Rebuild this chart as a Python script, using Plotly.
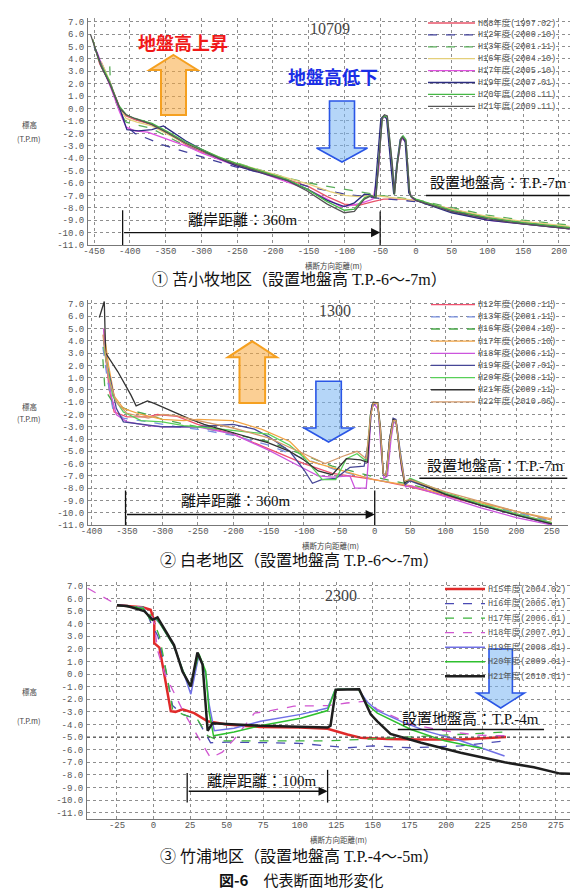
import plotly.graph_objects as go

W, H = 578, 890

# ---------------- Panel 1 : 苫小牧 10709 ----------------
names1 = ["H08年度(1997.02)", "H12年度(2000.10)", "H13年度(2001.11)", "H16年度(2004.10)",
          "H17年度(2005.10)", "H19年度(2007.01)", "H20年度(2008.11)", "H21年度(2009.11)"]
colors1 = ["#e8546a", "#40409a", "#5aae5a", "#e4cf7a", "#e050e0", "#2c2c80", "#46b846", "#555555"]
dash1 = ["solid", "dash", "dash", "solid", "solid", "solid", "solid", "solid"]

p1_x_h08 = [-452, -442, -428, -414, -405, -393, -369, -346, -322, -299, -276, -252, -215, -180, -150, -124, -100, -80, -60, -45, -20, 0, 50, 100, 150, 200, 215]
p1_y_h08 = [5.6, 3.6, 2.1, 0.1, -0.6, -0.9, -1.3, -2.0, -2.9, -3.5, -4.0, -4.5, -5.1, -5.7, -6.3, -7.1, -7.7, -7.8, -7.5, -7.3, -7.3, -7.4, -8.1, -8.8, -9.2, -9.5, -9.6]
p1_x_h12 = [-450, -440, -428, -416, -405, -393, -375, -355, -322, -300, -276, -252, -215, -180, -150, -100, -50, 0, 50, 100, 150, 200, 215]
p1_y_h12 = [5.0, 3.7, 2.2, 0.3, -1.4, -2.0, -2.4, -2.9, -3.5, -3.9, -4.3, -4.7, -5.2, -5.8, -6.3, -6.9, -7.25, -7.5, -8.2, -8.9, -9.2, -9.5, -9.6]
p1_x_h13 = [-428, -427, -420, -412, -405, -390, -370, -346, -322, -300, -276, -250, -215, -180, -150, -100, -50, 0, 50, 100, 150, 200, 215]
p1_y_h13 = [3.4, 2.0, 0.6, -0.5, -1.1, -1.3, -1.6, -2.3, -3.0, -3.5, -4.0, -4.4, -5.0, -5.6, -6.0, -6.5, -7.0, -7.35, -8.0, -8.6, -9.0, -9.3, -9.4]
p1_x_h16 = [-440, -428, -414, -405, -390, -369, -346, -322, -299, -276, -252, -215, -180, -150, -120, -100, -80, -60, -45, 0, 50, 100, 150, 200, 215]
p1_y_h16 = [3.8, 2.2, 0.0, -0.8, -1.1, -1.4, -2.1, -2.8, -3.3, -3.9, -4.4, -5.0, -5.6, -6.1, -6.7, -7.0, -7.1, -7.0, -7.1, -7.4, -8.1, -8.7, -9.1, -9.4, -9.5]
p1_x_h17 = [-446, -436, -426, -414, -405, -393, -375, -355, -340, -322, -299, -276, -252, -215, -180, -152, -124, -105, -90, -75, -60, -52, -48, -44, -40, -34, -30, -26, -21, -18, -14, -9, -6, 0, 50, 100, 150, 200, 215]
p1_y_h17 = [4.6, 3.0, 1.6, -0.3, -1.5, -1.8, -1.9, -2.3, -2.6, -3.0, -3.6, -4.1, -4.6, -5.2, -5.9, -6.5, -7.3, -7.9, -7.8, -7.6, -7.3, -5.0, -1.0, -0.6, -0.9, -4.5, -6.8, -4.5, -2.6, -2.4, -2.8, -6.6, -7.2, -7.4, -8.3, -9.0, -9.3, -9.6, -9.7]
p1_x_h19 = [-448, -438, -426, -414, -404, -388, -369, -353, -340, -322, -299, -276, -252, -215, -180, -152, -124, -100, -86, -72, -64, -58, -53, -49, -45, -41, -35, -31, -27, -22, -19, -15, -10, -7, 0, 50, 100, 150, 200, 215]
p1_y_h19 = [4.8, 3.2, 1.8, 0.0, -1.7, -1.8, -1.7, -1.4, -1.9, -2.6, -3.3, -4.0, -4.6, -5.2, -5.8, -6.5, -7.4, -7.9, -7.6, -6.9, -6.95, -7.2, -3.5, -0.8, -0.6, -0.8, -4.6, -6.9, -4.6, -2.5, -2.3, -2.7, -6.8, -7.1, -7.4, -8.4, -9.0, -9.3, -9.6, -9.7]
p1_x_h20 = [-452, -444, -430, -416, -405, -393, -369, -346, -322, -299, -276, -252, -215, -180, -152, -124, -100, -86, -72, -63, -56, -51, -47, -44, -40, -33, -30, -26, -21, -18, -14, -9, -7, 0, 50, 100, 150, 200, 215]
p1_y_h20 = [5.6, 4.0, 2.4, 0.3, -0.5, -0.8, -1.2, -1.9, -2.7, -3.3, -3.9, -4.4, -5.1, -5.7, -6.5, -7.5, -8.2, -8.1, -7.2, -7.0, -7.15, -3.4, -0.8, -0.6, -0.7, -4.6, -6.95, -4.4, -2.4, -2.2, -2.5, -6.6, -7.1, -7.3, -8.2, -8.8, -9.2, -9.5, -9.6]
p1_x_h21 = [-455, -447, -444, -440, -428, -414, -405, -393, -369, -346, -322, -299, -276, -252, -215, -180, -152, -124, -100, -86, -72, -63, -56, -51, -47, -44, -40, -33, -30, -26, -21, -19, -14, -9, -7, 0, 50, 100, 150, 200, 215]
p1_y_h21 = [6.0, 4.6, 4.1, 3.4, 2.0, 0.0, -0.5, -0.8, -1.3, -2.0, -2.8, -3.4, -4.0, -4.5, -5.2, -5.8, -6.65, -7.7, -8.4, -8.3, -7.3, -7.05, -7.2, -3.2, -0.7, -0.5, -0.6, -4.5, -6.9, -4.5, -2.5, -2.3, -2.6, -6.7, -7.05, -7.4, -8.3, -8.9, -9.3, -9.6, -9.7]

series1 = [(p1_x_h08, p1_y_h08), (p1_x_h12, p1_y_h12), (p1_x_h13, p1_y_h13), (p1_x_h16, p1_y_h16),
           (p1_x_h17, p1_y_h17), (p1_x_h19, p1_y_h19), (p1_x_h20, p1_y_h20), (p1_x_h21, p1_y_h21)]

# ---------------- Panel 2 : 白老 1300 ----------------
names2 = ["H12年度(2000.11)", "H13年度(2001.11)", "H16年度(2004.10)", "H17年度(2005.10)", "H18年度(2006.11)",
          "H19年度(2007.01)", "H20年度(2008.11)", "H21年度(2009.11)", "H22年度(2010.06)"]
colors2 = ["#f0506e", "#7890e0", "#4aa84a", "#f2a444", "#cc55dd", "#464696", "#58d058", "#333333", "#d49a6a"]
dash2 = ["solid", "dash", "dash", "solid", "solid", "solid", "solid", "solid", "solid"]

p2_x_h12 = [-383, -375, -368, -350, -320, -307, -279, -250, -200, -150, -100, -60, -20, 0, 50, 100, 150, 200, 250]
p2_y_h12 = [4.5, 0.0, -1.8, -2.2, -2.2, -2.0, -2.15, -2.8, -3.6, -4.8, -6.0, -6.8, -7.1, -7.3, -7.9, -8.6, -9.4, -10.1, -10.8]
p2_x_h13 = [-384, -378, -370, -355, -320, -280, -250, -200, -150, -100, -50, 0, 50, 100, 150, 200, 250]
p2_y_h13 = [3.5, 1.0, -1.5, -2.3, -2.6, -3.0, -3.2, -3.7, -4.5, -5.6, -6.6, -7.3, -7.8, -8.5, -9.3, -10.0, -10.7]
p2_x_h16 = [-384, -381, -370, -350, -320, -300, -250, -200, -150, -100, -60, -20, 0, 50, 100, 150, 200, 250]
p2_y_h16 = [2.5, 0.0, -1.0, -1.6, -2.0, -2.4, -3.0, -3.6, -4.2, -5.3, -6.2, -6.8, -7.1, -7.7, -8.4, -9.2, -9.9, -10.6]
p2_x_h17 = [-383, -376, -368, -355, -330, -300, -270, -250, -200, -160, -120, -92, -2, 50, 100, 150, 200, 250]
p2_y_h17 = [5.0, 2.0, -0.5, -1.5, -2.0, -2.4, -2.5, -2.4, -2.5, -3.2, -4.2, -5.8, -7.3, -7.8, -8.5, -9.2, -9.9, -10.5]
p2_x_h18 = [-383, -380, -372, -365, -350, -320, -300, -270, -250, -200, -150, -100, -80, -60, -35, -28, -12, -8, -5, 0, 5, 9, 13, 18, 23, 27, 31, 38, 44, 50, 100, 150, 200, 250]
p2_y_h18 = [5.0, 2.5, -0.5, -2.0, -2.6, -2.9, -3.0, -3.0, -3.0, -3.6, -4.9, -6.4, -7.0, -7.1, -7.0, -8.0, -8.0, -5.0, -1.5, -1.2, -1.6, -5.0, -7.2, -7.0, -4.0, -2.6, -2.8, -6.5, -7.9, -7.8, -8.7, -9.6, -10.4, -11.0]
p2_x_h19 = [-383, -378, -372, -365, -355, -330, -300, -250, -200, -170, -150, -120, -100, -88, -75, -55, -35, -15, -8, -4, 4, 8, 12, 16, 21, 26, 30, 36, 43, 50, 100, 150, 200, 250]
p2_y_h19 = [4.0, 2.0, 0.5, -1.5, -2.6, -2.8, -3.0, -3.0, -2.8, -3.2, -3.8, -5.0, -6.5, -7.6, -7.3, -7.2, -6.3, -6.2, -4.0, -1.2, -1.1, -3.5, -6.9, -7.0, -4.0, -2.3, -2.4, -5.0, -7.7, -7.4, -8.5, -9.4, -10.2, -10.9]
p2_x_h20 = [-383, -376, -370, -355, -330, -300, -270, -250, -200, -150, -120, -100, -74, -55, -40, -25, -12, -6, -2, 4, 8, 12, 16, 21, 26, 30, 36, 42, 50, 100, 150, 200, 250]
p2_y_h20 = [3.5, 1.5, -0.5, -1.8, -2.5, -2.6, -2.9, -3.0, -3.3, -3.6, -4.5, -5.5, -7.3, -7.3, -5.6, -5.2, -5.8, -2.0, -1.1, -1.1, -3.2, -6.8, -7.0, -4.2, -2.5, -2.5, -5.3, -7.6, -7.2, -8.4, -9.3, -10.1, -10.8]
p2_x_h21 = [-389, -382, -381, -380, -363, -344.5, -337, -321, -311.5, -288, -264, -241, -217, -194, -151, -120, -100, -80, -60, -40, -20, -10, -6, -2, 4, 8, 12, 16, 21, 26, 30, 36, 42, 50, 100, 150, 200, 250]
p2_y_h21 = [5.9, 7.2, 5.0, 3.0, 1.5, -0.4, -1.3, -0.9, -1.1, -1.7, -2.3, -2.8, -3.2, -3.6, -4.3, -5.0, -5.7, -6.6, -6.9, -5.6, -5.7, -5.9, -2.0, -1.0, -1.05, -3.0, -6.8, -7.0, -4.0, -2.4, -2.5, -5.5, -7.6, -7.3, -8.5, -9.4, -10.2, -10.9]
p2_x_h22 = [-384, -376, -365, -350, -320, -300, -280, -250, -200, -150, -100, -70, -45, -25, -12, -6, -2, 4, 8, 12, 16, 21, 26, 30, 36, 42, 50, 100, 150, 200, 250]
p2_y_h22 = [4.5, 1.0, -1.0, -1.9, -2.3, -2.0, -2.1, -2.5, -3.1, -3.9, -5.2, -6.0, -5.4, -5.0, -5.6, -2.2, -1.1, -1.1, -3.2, -6.8, -7.0, -4.2, -2.5, -2.5, -5.3, -7.4, -7.3, -8.3, -9.1, -9.9, -10.6]

series2 = [(p2_x_h12, p2_y_h12), (p2_x_h13, p2_y_h13), (p2_x_h16, p2_y_h16), (p2_x_h17, p2_y_h17),
           (p2_x_h18, p2_y_h18), (p2_x_h19, p2_y_h19), (p2_x_h20, p2_y_h20), (p2_x_h21, p2_y_h21),
           (p2_x_h22, p2_y_h22)]

# ---------------- Panel 3 : 竹浦 2300 ----------------
names3 = ["H15年度(2004.02)", "H16年度(2005.01)", "H17年度(2006.01)", "H18年度(2007.01)",
          "H19年度(2008.01)", "H20年度(2009.01)", "H21年度(2010.01)"]
colors3 = ["#e02a2a", "#4a4ab4", "#3cb43c", "#d056d0", "#7070e6", "#2ec02e", "#1e1e1e"]
dash3 = ["solid", "dash", "dash", "dash", "solid", "solid", "solid"]
width3 = [2.5, 1.3, 1.3, 1.3, 1.5, 1.5, 2.5]

p3_x_h15 = [-25, -7.5, -2, 0.5, 0.5, 4, 7.3, 11.8, 15, 19.8, 27.8, 37, 50, 73, 100, 119, 132.6, 141.5, 160, 180, 210, 241]
p3_y_h15 = [5.45, 5.3, 5.1, 4.2, 2.45, 2.1, 0.0, -2.95, -3.0, -2.8, -3.1, -3.75, -4.0, -4.2, -4.25, -4.35, -4.8, -5.05, -5.15, -5.2, -5.2, -5.0]
p3_x_h16 = [-25, -6, -2, 3, 8, 13, 20, 30, 39, 50, 78, 100, 119, 132.6, 150, 176, 210, 240]
p3_y_h16 = [5.45, 5.3, 4.1, 3.0, 0.5, -2.5, -3.2, -3.6, -5.45, -5.4, -5.45, -5.5, -5.7, -5.85, -5.7, -5.85, -5.7, -5.3]
p3_x_h17 = [-25, -6, -1, 4, 9, 13, 20, 30, 37, 45, 78, 100, 119, 140, 164.5, 198.7, 241]
p3_y_h17 = [5.45, 5.3, 4.5, 3.0, 0.0, -2.8, -3.2, -3.6, -4.9, -5.3, -5.3, -5.3, -5.3, -5.2, -5.05, -4.85, -4.6]
p3_x_h18 = [-45, -25, -8, -2, 0.5, 2.7, 7.3, 20, 30, 39, 47, 55, 69, 78, 96, 119, 132, 146, 153, 176, 199, 221.5, 241]
p3_y_h18 = [6.8, 5.5, 5.3, 4.8, 4.0, 1.9, 0.1, -2.9, -4.9, -6.65, -6.2, -5.2, -3.1, -2.95, -2.55, -2.5, -2.3, -2.15, -2.8, -4.0, -4.5, -4.85, -4.9]
p3_x_h19 = [-25, -7, -2, 2, 5, 14, 20, 25.5, 31, 35.7, 38, 41.5, 55, 73.3, 100.7, 119, 124, 126, 140, 146, 153, 170, 187, 210, 240]
p3_y_h19 = [5.45, 5.2, 4.4, 4.3, 3.9, 2.2, 0.3, -1.6, 1.5, 0.0, -2.4, -4.5, -4.3, -3.75, -3.2, -2.7, -1.3, -1.2, -1.2, -2.2, -2.9, -3.8, -4.55, -5.3, -6.5]
p3_x_h20 = [-25, -7, -2, 2, 5, 14, 20, 25, 31, 35.7, 38, 41, 55, 73, 100.7, 119, 124, 126, 140, 146, 153, 176, 199, 225]
p3_y_h20 = [5.45, 5.2, 4.3, 4.4, 3.9, 2.2, 0.3, -1.0, 1.6, 0.2, -3.0, -4.9, -4.6, -4.1, -3.5, -2.9, -1.3, -1.2, -1.2, -2.4, -3.1, -4.4, -5.3, -5.9]
p3_x_h21 = [-25, -18, -6.4, -0.7, 2.7, 5, 14, 19.8, 25.5, 30, 33.5, 37, 40.3, 73, 119, 121, 124.6, 140.6, 148.5, 153, 162, 183, 210, 240, 260, 278, 295]
p3_y_h21 = [5.45, 5.4, 5.0, 4.3, 4.5, 4.05, 2.3, 0.2, -1.0, 1.7, 0.75, -4.5, -3.9, -4.1, -4.25, -4.1, -1.25, -1.2, -3.2, -3.75, -4.75, -5.45, -6.25, -7.0, -7.4, -7.9, -7.95]

series3 = [(p3_x_h15, p3_y_h15), (p3_x_h16, p3_y_h16), (p3_x_h17, p3_y_h17), (p3_x_h18, p3_y_h18),
           (p3_x_h19, p3_y_h19), (p3_x_h20, p3_y_h20), (p3_x_h21, p3_y_h21)]

# ---------------- ticks ----------------
y_tickvals = [7, 6, 5, 4, 3, 2, 1, 0, -1, -2, -3, -4, -5, -6, -7, -8, -9, -10, -11]
y_ticktext = ["7.0", "6.0", "5.0", "4.0", "3.0", "2.0", "1.0", "0.0", "-1.0", "-2.0", "-3.0", "-4.0",
              "-5.0", "-6.0", "-7.0", "-8.0", "-9.0", "-10.0", "-11.0"]
x1_ticks = [-450, -400, -350, -300, -250, -200, -150, -100, -50, 0, 50, 100, 150, 200]
x2_ticks = [-400, -350, -300, -250, -200, -150, -100, -50, 0, 50, 100, 150, 200, 250]
x3_ticks = [-25, 0, 25, 50, 75, 100, 125, 150, 175, 200, 225, 250, 275]


def PX(x):
    return x / W


def PY(y):
    return 1 - y / H


fig = go.Figure()

for axn, series, cols, dashes, widths in [
    ("", series1, colors1, dash1, [1.3] * 8),
    ("2", series2, colors2, dash2, [1.3] * 9),
    ("3", series3, colors3, dash3, width3),
]:
    for (xs, ys), c, d, w in zip(series, cols, dashes, widths):
        fig.add_trace(go.Scatter(x=xs, y=ys, mode="lines", xaxis="x" + axn, yaxis="y" + axn,
                                 line=dict(color=c, width=w, dash=d), showlegend=False,
                                 hoverinfo="skip"))

tickfont = dict(family="Liberation Mono, DejaVu Sans Mono", size=9, color="#555")
axis_common = dict(showgrid=True, gridcolor="#8e8e8e", griddash="dot", gridwidth=1, zeroline=False,
                   showline=True, linecolor="#777", linewidth=1, ticks="", tickfont=tickfont,
                   automargin=False, fixedrange=True)


def xax(dom, rng, ticks, anchor):
    return dict(domain=dom, range=rng, tickvals=ticks, ticktext=[str(t) for t in ticks], anchor=anchor,
                ticklabelstandoff=-3, **axis_common)


def yax(dom, rng, anchor):
    return dict(domain=dom, range=rng, tickvals=y_tickvals, ticktext=y_ticktext, anchor=anchor,
                ticklabelstandoff=1, **axis_common)


shapes = []
annotations = []


def note(x, y, text, font, xanchor="center"):
    annotations.append(dict(xref="paper", yref="paper", x=PX(x), y=PY(y), text=text, showarrow=False,
                            xanchor=xanchor, yanchor="middle", font=font))


# legends (manual, compact)
def add_legend(names, cols, dashes, widths, x0, x1, y0, dy):
    for i, (n, c, d, w) in enumerate(zip(names, cols, dashes, widths)):
        yy = y0 + i * dy
        shapes.append(dict(type="line", xref="paper", yref="paper", x0=PX(x0), x1=PX(x1), y0=PY(yy), y1=PY(yy),
                           line=dict(color=c, width=w, dash=d)))
        note(x1 + 1, yy, n, dict(family="Liberation Mono, Noto Sans CJK JP", size=8.5, color="#555"), "left")


add_legend(names1, colors1, dash1, [1.3] * 8, 420, 467, 15, 11.9)
add_legend(names2, colors2, dash2, [1.3] * 9, 423, 467, 296.7, 12.15)
add_legend(names3, colors3, dash3, width3, 437, 477, 581, 14.55)


def arrow(cx, tip, base, end, hh, sh, fill, line, lw):
    pts = [(cx, tip), (cx + hh, base), (cx + sh, base), (cx + sh, end), (cx - sh, end), (cx - sh, base),
           (cx - hh, base)]
    path = "M " + " L ".join(f"{PX(a):.5f},{PY(b):.5f}" for a, b in pts) + " Z"
    shapes.append(dict(type="path", xref="paper", yref="paper", path=path, fillcolor=fill,
                       line=dict(color=line, width=lw)))


ORF, ORL = "rgba(248,168,60,0.55)", "#f5a020"
BLF, BLL = "rgba(120,180,242,0.55)", "#2a56e6"
arrow(165.5, 47, 62, 107, 24, 12.5, ORF, ORL, 2)
arrow(244.3, 333.3, 349.3, 395, 24.5, 12.8, ORF, ORL, 2)
arrow(334, 154, 140, 93, 25.5, 12.5, BLF, BLL, 1.6)
arrow(320.6, 434, 420, 373.3, 24.5, 12.7, BLF, BLL, 1.6)
arrow(492.7, 700, 685, 641, 23.7, 11.7, BLF, BLL, 1.6)

jp_bold = "Noto Sans CJK JP"
note(175, 34, "<b>地盤高上昇</b>", dict(family=jp_bold, size=18, color="#f01818"))
note(325, 68, "<b>地盤高低下</b>", dict(family=jp_bold, size=18, color="#1a2ee6"))

serif = "Liberation Serif, Noto Sans CJK JP"
# section numbers
for txt, x, y in [("10709", 322, 21), ("1300", 327, 303), ("2300", 333, 587)]:
    note(x, y, txt, dict(family=serif, size=16, color="#444"))

# 設置地盤高 labels
for txt, x, y in [("設置地盤高：T.P.-7m", 490, 175), ("設置地盤高：T.P.-7m", 488, 458),
                  ("設置地盤高：T.P.-4m", 462, 711)]:
    note(x, y, txt, dict(family=serif, size=15, color="#111"))
shapes += [
    dict(type="line", xref="x", yref="y", x0=14, x1=215, y0=-7.0, y1=-7.0, line=dict(color="#111", width=1.5)),
    dict(type="line", xref="x2", yref="y2", x0=63, x1=272, y0=-7.2, y1=-7.2, line=dict(color="#111", width=1.5)),
    dict(type="line", xref="x3", yref="y3", x0=167, x1=267, y0=-4.4, y1=-4.4, line=dict(color="#111", width=1.5)),
]

# 離岸距離
for axn, xl, xr, yl, ytop_l, ytop_r, ybot, tx, ty, txt in [
    ("", -410, -50, -10.0, -8.2, -8.3, -11.0, 235, 212, "離岸距離：360m"),
    ("2", -352, 0, -10.15, -8.2, -8.2, -11.0, 228, 493, "離岸距離：360m"),
    ("3", 23, 119, -9.3, -7.85, -7.6, -10.2, 254, 773, "離岸距離：100m"),
]:
    shapes.append(dict(type="line", xref="x" + axn, yref="y" + axn, x0=xl, x1=xl, y0=ytop_l, y1=ybot,
                       line=dict(color="#111", width=1.3)))
    shapes.append(dict(type="line", xref="x" + axn, yref="y" + axn, x0=xr, x1=xr, y0=ytop_r, y1=ybot,
                       line=dict(color="#111", width=1.3)))
    annotations.append(dict(xref="x" + axn, yref="y" + axn, x=xr, y=yl, ax=xl, ay=yl,
                            axref="x" + axn, ayref="y" + axn, text="", showarrow=True,
                            arrowhead=2, arrowsize=1.3, arrowwidth=1.4, arrowcolor="#111"))
    note(tx, ty, txt, dict(family=serif, size=15, color="#111"))

# darker reference grid line in panel 3
shapes.append(dict(type="line", xref="x3 domain", yref="y3", x0=0, x1=1, y0=-5, y1=-5,
                   line=dict(color="#444", width=1, dash="dot")))

# axis titles
small = dict(family="Noto Sans CJK JP", size=7.5, color="#444")
for x, y, t in [(21, 117, "標高"), (21, 130, "(T.P.m)"), (21, 398, "標高"), (21, 410, "(T.P.m)"),
                (21, 683, "標高"), (21, 712, "(T.P.m)"),
                (325, 257, "横断方向距離(m)"), (322, 537, "横断方向距離(m)"), (330, 831, "横断方向距離(m)")]:
    note(x, y, t, small)

# captions
cap = dict(family=serif, size=16, color="#111")
for y, t in [(271, "① 苫小牧地区（設置地盤高 T.P.-6～-7m）"), (552, "② 白老地区（設置地盤高 T.P.-6～-7m）"),
             (848, "③ 竹浦地区（設置地盤高 T.P.-4～-5m）")]:
    note(291, y, t, cap)
note(293, 871, "<b>図-6</b>　代表断面地形変化", dict(family="Noto Sans CJK JP", size=15, color="#111"))

fig.update_layout(
    width=W, height=H, margin=dict(l=0, r=0, t=0, b=0), paper_bgcolor="white", plot_bgcolor="white",
    showlegend=False,
    xaxis=xax([PX(80), PX(562)], [-458.4, 215.4], x1_ticks, "y"),
    yaxis=yax([PY(237), PY(10)], [-11, 7.3], "x"),
    xaxis2=xax([PX(80), PX(560)], [-405, 273], x2_ticks, "y2"),
    yaxis2=yax([PY(517), PY(292.3)], [-11, 7.3], "x2"),
    xaxis3=xax([PX(79), PX(577)], [-45.5, 295], x3_ticks, "y3"),
    yaxis3=yax([PY(811), PY(574)], [-11.5, 7.3], "x3"),
    shapes=shapes, annotations=annotations,
)

fig.write_html("out.html")
